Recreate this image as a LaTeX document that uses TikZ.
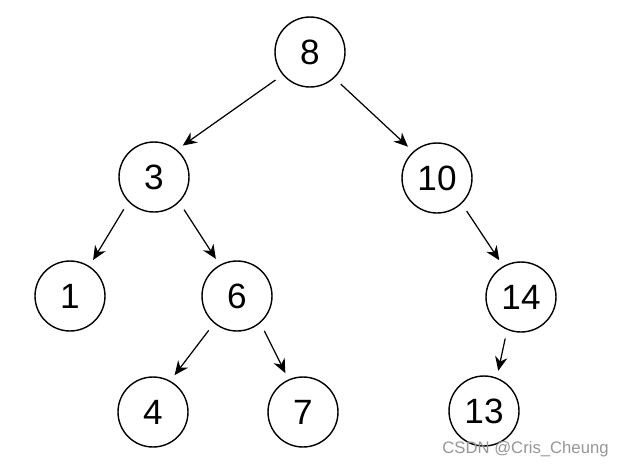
\documentclass[tikz,border=0pt]{standalone}
\usepackage{fontspec}
\setmainfont{Liberation Sans}
\usetikzlibrary{arrows.meta}
\definecolor{markGray}{RGB}{150,150,150}
\tikzset{
  treenode/.style={circle,draw=black,line width=0.8pt,minimum size=1.4cm,inner sep=0pt,font=\fontsize{20}{22}\selectfont},
  treeedge/.style={-{Stealth[length=8pt,width=7pt]},line width=0.7pt,shorten <=5pt,shorten >=4pt}
}

\begin{document}
\begin{tikzpicture}[x=0.02cm,y=-0.02cm]
\useasboundingbox (0,0) rectangle (625,467);
% nodes of the tree
\node[treenode] (n8)  at (310,52)  {8};
\node[treenode] (n3)  at (154,177) {3};
\node[treenode] (n10) at (437,178) {10};
\node[treenode] (n1)  at (70,296)  {1};
\node[treenode] (n6)  at (237,296) {6};
\node[treenode] (n14) at (521,297) {14};
\node[treenode] (n4)  at (153,412) {4};
\node[treenode] (n7)  at (303,412) {7};
\node[treenode] (n13) at (484,411) {13};
% edges
\draw[treeedge] (n8.220) -- (n3.50);
\draw[treeedge] (n8.313) -- (n10.132);
\draw[treeedge] (n3.224) -- (n1.57);
\draw[treeedge] (n3.315) -- (n6.119);
\draw[treeedge] (n6.230) -- (n4.61);
\draw[treeedge] (n6.311) -- (n7.114);
\draw[treeedge] (n10.314) -- (n14.120);
\draw[treeedge] (n14.247) -- (n13.69);
% watermark
\node[anchor=base east,text=markGray,font=\fontsize{9.5}{11}\selectfont,inner sep=0pt] (mark) at (609,453) {CSDN @Cris\_Cheung};
\end{tikzpicture}
\end{document}
